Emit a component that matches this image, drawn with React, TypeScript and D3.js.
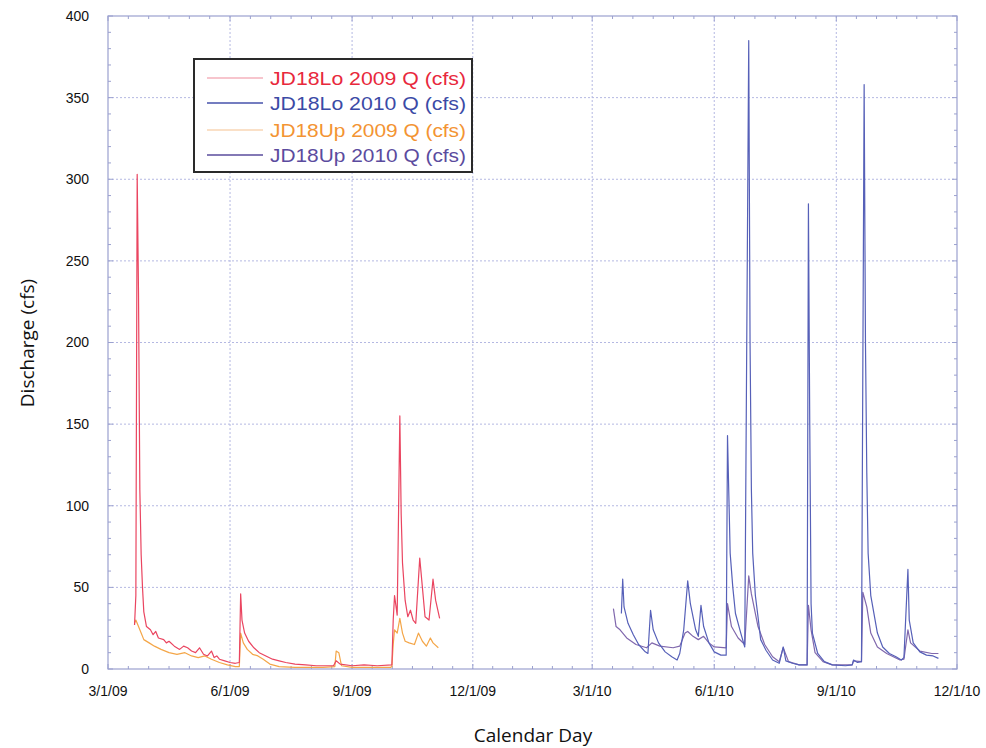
import React from 'react';
import * as d3 from 'd3';

const W = 986;
const H = 748;
const margin = { top: 16, right: 29, bottom: 79, left: 108 };

const xTickLabels = ['3/1/09', '6/1/09', '9/1/09', '12/1/09', '3/1/10', '6/1/10', '9/1/10', '12/1/10'];
const xTickDates = ['2009-03-01', '2009-06-01', '2009-09-01', '2009-12-01', '2010-03-01', '2010-06-01', '2010-09-01', '2010-12-01'];
const yTicks = [0, 50, 100, 150, 200, 250, 300, 350, 400];

const seriesNames = ['JD18Lo 2009 Q (cfs)', 'JD18Lo 2010 Q (cfs)', 'JD18Up 2009 Q (cfs)', 'JD18Up 2010 Q (cfs)'];

const lo2009: [string, number][] = [
  ['2009-03-21', 27], ['2009-03-22', 45], ['2009-03-23', 303], ['2009-03-24', 230], ['2009-03-25', 110],
  ['2009-03-26', 70], ['2009-03-27', 50], ['2009-03-28', 35], ['2009-03-30', 26], ['2009-04-02', 24],
  ['2009-04-04', 21], ['2009-04-06', 23], ['2009-04-08', 19], ['2009-04-12', 18], ['2009-04-14', 16],
  ['2009-04-16', 17], ['2009-04-20', 14], ['2009-04-24', 12], ['2009-04-27', 14], ['2009-04-30', 13],
  ['2009-05-03', 11], ['2009-05-06', 10], ['2009-05-09', 13], ['2009-05-12', 9], ['2009-05-15', 8],
  ['2009-05-18', 11], ['2009-05-20', 7], ['2009-05-22', 8], ['2009-05-24', 6], ['2009-05-28', 5],
  ['2009-06-01', 4], ['2009-06-05', 3.5], ['2009-06-08', 4], ['2009-06-09', 46], ['2009-06-10', 30],
  ['2009-06-12', 22], ['2009-06-15', 17], ['2009-06-19', 13], ['2009-06-23', 10], ['2009-06-28', 8],
  ['2009-07-03', 6], ['2009-07-08', 5], ['2009-07-13', 4], ['2009-07-20', 3], ['2009-07-28', 2.5],
  ['2009-08-05', 2], ['2009-08-12', 2], ['2009-08-18', 2], ['2009-08-20', 5], ['2009-08-23', 3],
  ['2009-09-01', 2], ['2009-09-10', 2.5], ['2009-09-20', 2], ['2009-10-01', 2.5], ['2009-10-02', 30],
  ['2009-10-03', 45], ['2009-10-05', 33], ['2009-10-07', 155], ['2009-10-08', 95], ['2009-10-09', 65],
  ['2009-10-11', 42], ['2009-10-13', 32], ['2009-10-15', 36], ['2009-10-17', 30], ['2009-10-19', 28],
  ['2009-10-22', 68], ['2009-10-24', 50], ['2009-10-26', 32], ['2009-10-29', 30], ['2009-11-01', 55],
  ['2009-11-03', 42], ['2009-11-06', 31],
];

const up2009: [string, number][] = [
  ['2009-03-21', 28], ['2009-03-22', 30], ['2009-03-24', 26], ['2009-03-26', 22], ['2009-03-28', 18],
  ['2009-04-01', 16], ['2009-04-05', 14], ['2009-04-10', 12], ['2009-04-16', 10], ['2009-04-22', 9],
  ['2009-04-28', 10], ['2009-05-03', 8], ['2009-05-08', 7], ['2009-05-13', 8], ['2009-05-18', 6],
  ['2009-05-24', 4], ['2009-05-30', 2.5], ['2009-06-05', 1.5], ['2009-06-08', 1.5], ['2009-06-09', 22],
  ['2009-06-11', 16], ['2009-06-14', 12], ['2009-06-18', 9], ['2009-06-22', 8], ['2009-06-26', 6],
  ['2009-07-01', 3], ['2009-07-08', 1.5], ['2009-07-20', 1], ['2009-08-10', 1], ['2009-08-19', 1.5],
  ['2009-08-20', 11], ['2009-08-22', 10], ['2009-08-24', 2], ['2009-09-01', 1], ['2009-09-30', 1],
  ['2009-10-01', 1.5], ['2009-10-02', 15], ['2009-10-03', 24], ['2009-10-05', 22], ['2009-10-07', 31],
  ['2009-10-09', 22], ['2009-10-11', 17], ['2009-10-14', 16], ['2009-10-18', 15], ['2009-10-21', 22],
  ['2009-10-24', 17], ['2009-10-27', 14], ['2009-10-30', 19], ['2009-11-01', 16], ['2009-11-05', 13],
];

const lo2010: [string, number][] = [
  ['2010-03-23', 34], ['2010-03-24', 55], ['2010-03-25', 38], ['2010-03-28', 28], ['2010-04-01', 21],
  ['2010-04-05', 15], ['2010-04-10', 10.5], ['2010-04-12', 9.5], ['2010-04-14', 36], ['2010-04-16', 24],
  ['2010-04-20', 16], ['2010-04-25', 10.5], ['2010-04-30', 7.5], ['2010-05-04', 5.5], ['2010-05-06', 9.5],
  ['2010-05-09', 24], ['2010-05-12', 54], ['2010-05-14', 40], ['2010-05-18', 24], ['2010-05-20', 20],
  ['2010-05-22', 39], ['2010-05-24', 26], ['2010-05-28', 16], ['2010-06-01', 10.5], ['2010-06-06', 8.5],
  ['2010-06-10', 8.5], ['2010-06-11', 143], ['2010-06-13', 71], ['2010-06-15', 50], ['2010-06-17', 34],
  ['2010-06-21', 22], ['2010-06-24', 13.5], ['2010-06-27', 385], ['2010-06-28', 200], ['2010-06-29', 110],
  ['2010-06-30', 71], ['2010-07-02', 45], ['2010-07-04', 32], ['2010-07-06', 18], ['2010-07-10', 11.5],
  ['2010-07-15', 5.5], ['2010-07-20', 3.5], ['2010-07-23', 13.5], ['2010-07-25', 5], ['2010-07-30', 3.5],
  ['2010-08-04', 2.5], ['2010-08-10', 2.5], ['2010-08-11', 285], ['2010-08-12', 150], ['2010-08-13', 40],
  ['2010-08-14', 22], ['2010-08-18', 9.5], ['2010-08-23', 4.5], ['2010-08-29', 2.5], ['2010-09-08', 2],
  ['2010-09-13', 2.5], ['2010-09-14', 5.5], ['2010-09-17', 4], ['2010-09-20', 4.5], ['2010-09-22', 358],
  ['2010-09-23', 200], ['2010-09-24', 120], ['2010-09-25', 71], ['2010-09-27', 45], ['2010-10-02', 22],
  ['2010-10-06', 13.5], ['2010-10-11', 9.5], ['2010-10-16', 7.5], ['2010-10-20', 5.5], ['2010-10-22', 7],
  ['2010-10-25', 61], ['2010-10-26', 30], ['2010-10-29', 16], ['2010-11-03', 10.5], ['2010-11-08', 8.5],
  ['2010-11-13', 8], ['2010-11-17', 6.5],
];

const up2010: [string, number][] = [
  ['2010-03-17', 37], ['2010-03-19', 26], ['2010-03-22', 24], ['2010-03-27', 19], ['2010-04-03', 15],
  ['2010-04-11', 13], ['2010-04-15', 16], ['2010-04-21', 14], ['2010-05-01', 13], ['2010-05-06', 14],
  ['2010-05-10', 22], ['2010-05-12', 23], ['2010-05-16', 20], ['2010-05-20', 18], ['2010-05-24', 20],
  ['2010-05-28', 16], ['2010-06-01', 13.5], ['2010-06-10', 13], ['2010-06-11', 40], ['2010-06-14', 26],
  ['2010-06-19', 19], ['2010-06-24', 15], ['2010-06-27', 57], ['2010-06-29', 46], ['2010-07-04', 26],
  ['2010-07-09', 15], ['2010-07-15', 7.5], ['2010-07-20', 4.5], ['2010-07-23', 13], ['2010-07-27', 4.5],
  ['2010-08-04', 2.5], ['2010-08-10', 2.5], ['2010-08-11', 39], ['2010-08-13', 24], ['2010-08-16', 10],
  ['2010-08-22', 4.5], ['2010-08-29', 2.5], ['2010-09-13', 2.5], ['2010-09-14', 5], ['2010-09-20', 4.5],
  ['2010-09-21', 47], ['2010-09-24', 38], ['2010-09-27', 22], ['2010-10-02', 13.5], ['2010-10-09', 9.5],
  ['2010-10-19', 5.5], ['2010-10-22', 6], ['2010-10-25', 24], ['2010-10-27', 16], ['2010-11-03', 11],
  ['2010-11-12', 9.5], ['2010-11-17', 9.5],
];

const parse = d3.timeParse('%Y-%m-%d');

const plotW = W - margin.left - margin.right;
const plotH = H - margin.top - margin.bottom;

const x = d3
  .scaleTime()
  .domain([parse('2009-03-01')!, parse('2010-12-01')!])
  .range([margin.left, margin.left + plotW]);

const y = d3
  .scaleLinear()
  .domain([0, 400])
  .range([margin.top + plotH, margin.top]);

const line = d3
  .line<[string, number]>()
  .x(d => x(parse(d[0])!))
  .y(d => y(d[1]));

const series = [
  { data: lo2009, stroke: '#ea4560', width: 1.2, legendStroke: '#f4b2bc', text: '#e8283c' },
  { data: lo2010, stroke: '#5660b8', width: 1.2, legendStroke: '#4652ab', text: '#3b4aa6' },
  { data: up2009, stroke: '#f4a648', width: 1.2, legendStroke: '#f8d6b4', text: '#f39433' },
  { data: up2010, stroke: '#8068ad', width: 1.2, legendStroke: '#5a4c9c', text: '#5b4b9e' },
];
// draw order: 2009 up below 2009 lo, 2010 up below 2010 lo
const drawOrder = [2, 0, 3, 1];

const frame = '#9ba1cf';
const grid = '#b4b8e2';

const App = () => {
  const majorX = xTickDates.map(d => x(parse(d)!));
  const minorX: number[] = [];
  for (let i = 0; i < majorX.length - 1; i++) {
    for (let k = 1; k < 6; k++) minorX.push(majorX[i] + ((majorX[i + 1] - majorX[i]) * k) / 6);
  }
  const minorY = d3.range(10, 400, 10).filter(v => v % 50 !== 0);
  const x0 = margin.left;
  const x1 = margin.left + plotW;
  const y0 = margin.top + plotH;
  const y1 = margin.top;

  return (
    <svg width={W} height={H} style={{ position: 'absolute', left: 0, top: 0, background: '#fff' }}>
      {/* grid */}
      <g stroke={grid} strokeWidth={1} strokeDasharray="2,2">
        {majorX.slice(1, -1).map((px, i) => (
          <line key={'gx' + i} x1={px} x2={px} y1={y1} y2={y0} />
        ))}
        {yTicks.slice(1, -1).map(v => (
          <line key={'gy' + v} x1={x0} x2={x1} y1={y(v)} y2={y(v)} />
        ))}
      </g>

      {/* ticks */}
      <g stroke={frame} strokeWidth={1}>
        {majorX.map((px, i) => (
          <g key={'tx' + i}>
            <line x1={px} x2={px} y1={y0} y2={y0 - 5} />
            <line x1={px} x2={px} y1={y1} y2={y1 + 5} />
          </g>
        ))}
        {minorX.map((px, i) => (
          <g key={'mx' + i}>
            <line x1={px} x2={px} y1={y0} y2={y0 - 3} />
            <line x1={px} x2={px} y1={y1} y2={y1 + 3} />
          </g>
        ))}
        {yTicks.map(v => (
          <g key={'ty' + v}>
            <line x1={x0} x2={x0 + 5} y1={y(v)} y2={y(v)} />
            <line x1={x1} x2={x1 - 5} y1={y(v)} y2={y(v)} />
          </g>
        ))}
        {minorY.map(v => (
          <g key={'my' + v}>
            <line x1={x0} x2={x0 + 3} y1={y(v)} y2={y(v)} />
            <line x1={x1} x2={x1 - 3} y1={y(v)} y2={y(v)} />
          </g>
        ))}
      </g>

      {/* lines */}
      <g fill="none" strokeLinejoin="round">
        {drawOrder.map(i => (
          <path key={'s' + i} d={line(series[i].data) || ''} stroke={series[i].stroke} strokeWidth={series[i].width} />
        ))}
      </g>

      {/* frame */}
      <rect x={x0} y={y1} width={plotW} height={plotH} fill="none" stroke={frame} strokeWidth={1.2} />

      {/* tick labels */}
      <g fontFamily="Liberation Sans, Arial, sans-serif" fontSize={14} fill="#111">
        {yTicks.map(v => (
          <text key={'ly' + v} x={89} y={y(v)} dy="0.35em" textAnchor="end">
            {v}
          </text>
        ))}
        {xTickLabels.map((t, i) => (
          <text key={'lx' + i} x={majorX[i]} y={696} textAnchor="middle">
            {t}
          </text>
        ))}
      </g>

      {/* axis titles */}
      <g fontFamily="Open Sans, Noto Sans, sans-serif" fontSize={19} fill="#111">
        <text x={533} y={742} textAnchor="middle">
          Calendar Day
        </text>
        <text transform="translate(34,343) rotate(-90)" textAnchor="middle">
          Discharge (cfs)
        </text>
      </g>

      {/* legend */}
      <g>
        <rect x={194} y={59} width={278} height={113} fill="#fff" stroke="#2a2a2a" strokeWidth={2} />
        {seriesNames.map((name, i) => {
          const ly = [78, 103, 130, 155][i];
          return (
            <g key={'lg' + i}>
              <line x1={207} x2={263} y1={ly} y2={ly} stroke={series[i].legendStroke} strokeWidth={1.3} />
              <text
                x={270}
                y={ly}
                dy="0.36em"
                fontFamily="Liberation Sans, Arial, sans-serif"
                fontSize={19}
                textLength={196}
                lengthAdjust="spacingAndGlyphs"
                fill={series[i].text}
              >
                {name}
              </text>
            </g>
          );
        })}
      </g>
    </svg>
  );
};

export default App;
